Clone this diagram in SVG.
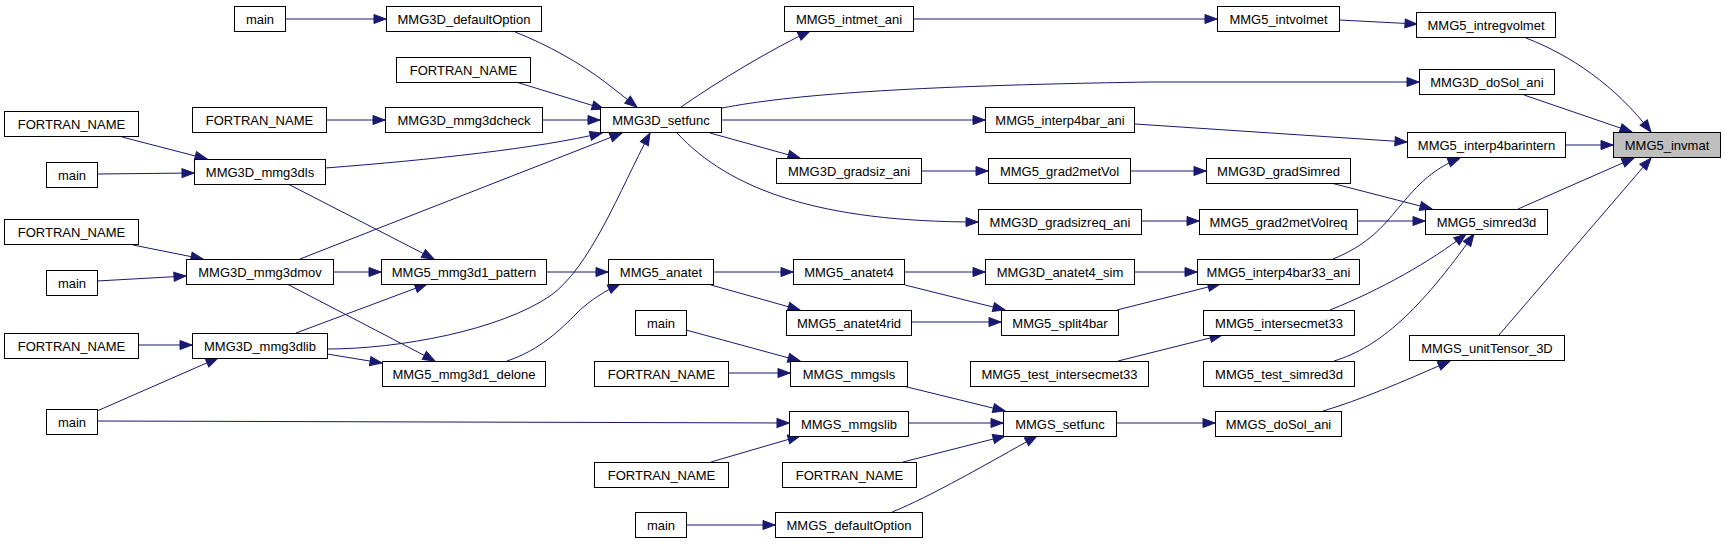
<svg xmlns="http://www.w3.org/2000/svg" width="1725" height="544" viewBox="0 0 1725 544">
<style>
rect{fill:#fff;stroke:#000;stroke-width:1}
rect.hl{fill:#bfbfbf}
text{font-family:"Liberation Sans",Arial,Helvetica,sans-serif;font-size:13px;text-anchor:middle;fill:#000}
#edges path{fill:none;stroke:#191970;stroke-width:1;marker-end:url(#arr)}
</style>
<defs>
<marker id="arr" markerUnits="userSpaceOnUse" markerWidth="14" markerHeight="12" refX="13" refY="6" orient="auto">
<path d="M1,1.5 L13,6 L1,10.5 z" fill="#191970" stroke="#191970" stroke-width="1"/>
</marker>
</defs>
<rect x="0" y="0" width="1725" height="544" style="fill:#fff;stroke:none"/>
<g id="edges">
<path d="M285,19 L386,19"/>
<path d="M515,32 C548,45 580,63 605,82 L637,107"/>
<path d="M516,82 L604,109"/>
<path d="M327,120 L385,120"/>
<path d="M542,120 L600,120"/>
<path d="M122,137 L207,159"/>
<path d="M97,174 L194,173"/>
<path d="M325,168 C430,160 540,148 602,133"/>
<path d="M133,245 L203,259"/>
<path d="M97,281 L186,276"/>
<path d="M300,259 L622,133"/>
<path d="M333,272 L381,272"/>
<path d="M288,184 L434,259"/>
<path d="M287,284 L435,361"/>
<path d="M296,333 L427,284"/>
<path d="M139,345 L192,345"/>
<path d="M97,411 L218,358"/>
<path d="M327,354 L382,363"/>
<path d="M327,349 C400,349 500,330 550,296 C590,268 620,190 650,133"/>
<path d="M507,361 C540,350 560,330 577,313 C590,300 605,291 620,284"/>
<path d="M546,272 L608,272"/>
<path d="M713,272 L793,272"/>
<path d="M711,285 L800,310"/>
<path d="M905,272 L985,272"/>
<path d="M905,285 L1005,310"/>
<path d="M912,322 L1001,322"/>
<path d="M1135,272 L1197,272"/>
<path d="M1117,310 L1220,284"/>
<path d="M1118,361 L1222,335"/>
<path d="M686,330 L800,361"/>
<path d="M728,373 L790,373"/>
<path d="M903,386 L1005,411"/>
<path d="M97,421 L789,423"/>
<path d="M711,462 L800,436"/>
<path d="M908,423 L1003,423"/>
<path d="M903,462 L1005,436"/>
<path d="M686,525 L775,525"/>
<path d="M892,512 C930,497 990,462 1037,436"/>
<path d="M1116,423 L1215,423"/>
<path d="M1323,411 C1360,400 1400,383 1450,361"/>
<path d="M1499,335 L1651,158"/>
<path d="M1334,361 C1380,347 1420,310 1474,234"/>
<path d="M1330,310 C1380,290 1430,262 1466,234"/>
<path d="M1333,259 C1365,246 1380,230 1395,212 C1415,188 1430,170 1460,158"/>
<path d="M1331,183 L1432,209"/>
<path d="M1358,221 L1425,221"/>
<path d="M1518,209 L1634,158"/>
<path d="M1565,145 L1613,145"/>
<path d="M1524,95 L1632,132"/>
<path d="M1526,38 C1570,55 1615,85 1651,132"/>
<path d="M1339,20 L1417,24"/>
<path d="M913,19 L1217,19"/>
<path d="M681,107 C720,80 770,50 810,31"/>
<path d="M722,108 C790,95 900,86 1150,82 L1419,82"/>
<path d="M722,120 L985,120"/>
<path d="M1135,124 L1407,142"/>
<path d="M710,133 L800,158"/>
<path d="M921,171 L988,171"/>
<path d="M1131,171 L1206,171"/>
<path d="M677,133 C730,190 820,222 978,222"/>
<path d="M1141,221 L1199,221"/>
</g>
<g id="n1"><rect x="234.5" y="6.5" width="51" height="25"/><text x="260" y="23.5">main</text></g>
<g id="n2"><rect x="386.5" y="6.5" width="155" height="25"/><text x="464" y="23.5">MMG3D_defaultOption</text></g>
<g id="n3"><rect x="396.5" y="57.5" width="134" height="25"/><text x="463.5" y="74.5">FORTRAN_NAME</text></g>
<g id="n4"><rect x="192.5" y="107.5" width="134" height="25"/><text x="259.5" y="124.5">FORTRAN_NAME</text></g>
<g id="n5"><rect x="385.5" y="107.5" width="157" height="25"/><text x="464" y="124.5">MMG3D_mmg3dcheck</text></g>
<g id="n6"><rect x="4.5" y="111.5" width="134" height="25"/><text x="71.5" y="128.5">FORTRAN_NAME</text></g>
<g id="n7"><rect x="46.5" y="162.5" width="51" height="25"/><text x="72" y="179.5">main</text></g>
<g id="n8"><rect x="194.5" y="159.5" width="131" height="25"/><text x="260" y="176.5">MMG3D_mmg3dls</text></g>
<g id="n9"><rect x="4.5" y="219.5" width="134" height="25"/><text x="71.5" y="236.5">FORTRAN_NAME</text></g>
<g id="n10"><rect x="186.5" y="259.5" width="147" height="25"/><text x="260" y="276.5">MMG3D_mmg3dmov</text></g>
<g id="n11"><rect x="381.5" y="259.5" width="165" height="25"/><text x="464" y="276.5">MMG5_mmg3d1_pattern</text></g>
<g id="n12"><rect x="46.5" y="270.5" width="51" height="25"/><text x="72" y="287.5">main</text></g>
<g id="n13"><rect x="4.5" y="333.5" width="134" height="25"/><text x="71.5" y="350.5">FORTRAN_NAME</text></g>
<g id="n14"><rect x="192.5" y="333.5" width="135" height="25"/><text x="260" y="350.5">MMG3D_mmg3dlib</text></g>
<g id="n15"><rect x="382.5" y="361.5" width="163" height="25"/><text x="464" y="378.5">MMG5_mmg3d1_delone</text></g>
<g id="n16"><rect x="46.5" y="409.5" width="51" height="25"/><text x="72" y="426.5">main</text></g>
<g id="n17"><rect x="600.5" y="107.5" width="121" height="25"/><text x="661" y="124.5">MMG3D_setfunc</text></g>
<g id="n18"><rect x="608.5" y="259.5" width="105" height="25"/><text x="661" y="276.5">MMG5_anatet</text></g>
<g id="n19"><rect x="635.5" y="310.5" width="51" height="25"/><text x="661" y="327.5">main</text></g>
<g id="n20"><rect x="594.5" y="361.5" width="134" height="25"/><text x="661.5" y="378.5">FORTRAN_NAME</text></g>
<g id="n21"><rect x="594.5" y="462.5" width="134" height="25"/><text x="661.5" y="479.5">FORTRAN_NAME</text></g>
<g id="n22"><rect x="635.5" y="512.5" width="51" height="25"/><text x="661" y="529.5">main</text></g>
<g id="n23"><rect x="784.5" y="6.5" width="129" height="25"/><text x="849" y="23.5">MMG5_intmet_ani</text></g>
<g id="n24"><rect x="776.5" y="158.5" width="145" height="25"/><text x="849" y="175.5">MMG3D_gradsiz_ani</text></g>
<g id="n25"><rect x="793.5" y="259.5" width="111" height="25"/><text x="849" y="276.5">MMG5_anatet4</text></g>
<g id="n26"><rect x="786.5" y="310.5" width="125" height="25"/><text x="849" y="327.5">MMG5_anatet4rid</text></g>
<g id="n27"><rect x="790.5" y="361.5" width="117" height="25"/><text x="849" y="378.5">MMGS_mmgsls</text></g>
<g id="n28"><rect x="789.5" y="411.5" width="119" height="25"/><text x="849" y="428.5">MMGS_mmgslib</text></g>
<g id="n29"><rect x="782.5" y="462.5" width="134" height="25"/><text x="849.5" y="479.5">FORTRAN_NAME</text></g>
<g id="n30"><rect x="775.5" y="512.5" width="147" height="25"/><text x="849" y="529.5">MMGS_defaultOption</text></g>
<g id="n31"><rect x="985.5" y="107.5" width="149" height="25"/><text x="1060" y="124.5">MMG5_interp4bar_ani</text></g>
<g id="n32"><rect x="988.5" y="158.5" width="142" height="25"/><text x="1059.5" y="175.5">MMG5_grad2metVol</text></g>
<g id="n33"><rect x="978.5" y="209.5" width="163" height="25"/><text x="1060" y="226.5">MMG3D_gradsizreq_ani</text></g>
<g id="n34"><rect x="985.5" y="259.5" width="149" height="25"/><text x="1060" y="276.5">MMG3D_anatet4_sim</text></g>
<g id="n35"><rect x="1001.5" y="310.5" width="117" height="25"/><text x="1060" y="327.5">MMG5_split4bar</text></g>
<g id="n36"><rect x="970.5" y="361.5" width="178" height="25"/><text x="1059.5" y="378.5">MMG5_test_intersecmet33</text></g>
<g id="n37"><rect x="1003.5" y="411.5" width="113" height="25"/><text x="1060" y="428.5">MMGS_setfunc</text></g>
<g id="n38"><rect x="1217.5" y="6.5" width="122" height="25"/><text x="1278.5" y="23.5">MMG5_intvolmet</text></g>
<g id="n39"><rect x="1206.5" y="158.5" width="144" height="25"/><text x="1278.5" y="175.5">MMG3D_gradSimred</text></g>
<g id="n40"><rect x="1199.5" y="209.5" width="158" height="25"/><text x="1278.5" y="226.5">MMG5_grad2metVolreq</text></g>
<g id="n41"><rect x="1197.5" y="259.5" width="162" height="25"/><text x="1278.5" y="276.5">MMG5_interp4bar33_ani</text></g>
<g id="n42"><rect x="1203.5" y="310.5" width="151" height="25"/><text x="1279" y="327.5">MMG5_intersecmet33</text></g>
<g id="n43"><rect x="1203.5" y="361.5" width="151" height="25"/><text x="1279" y="378.5">MMG5_test_simred3d</text></g>
<g id="n44"><rect x="1215.5" y="411.5" width="126" height="25"/><text x="1278.5" y="428.5">MMGS_doSol_ani</text></g>
<g id="n45"><rect x="1416.5" y="12.5" width="139" height="25"/><text x="1486" y="29.5">MMG5_intregvolmet</text></g>
<g id="n46"><rect x="1419.5" y="69.5" width="135" height="25"/><text x="1487" y="86.5">MMG3D_doSol_ani</text></g>
<g id="n47"><rect x="1407.5" y="132.5" width="158" height="25"/><text x="1486.5" y="149.5">MMG5_interp4barintern</text></g>
<g id="n48"><rect x="1425.5" y="209.5" width="122" height="25"/><text x="1486.5" y="226.5">MMG5_simred3d</text></g>
<g id="n49"><rect x="1409.5" y="335.5" width="155" height="25"/><text x="1487" y="352.5">MMGS_unitTensor_3D</text></g>
<g id="n50"><rect class="hl" x="1613.5" y="132.5" width="107" height="25"/><text x="1667" y="149.5">MMG5_invmat</text></g>
</svg>
